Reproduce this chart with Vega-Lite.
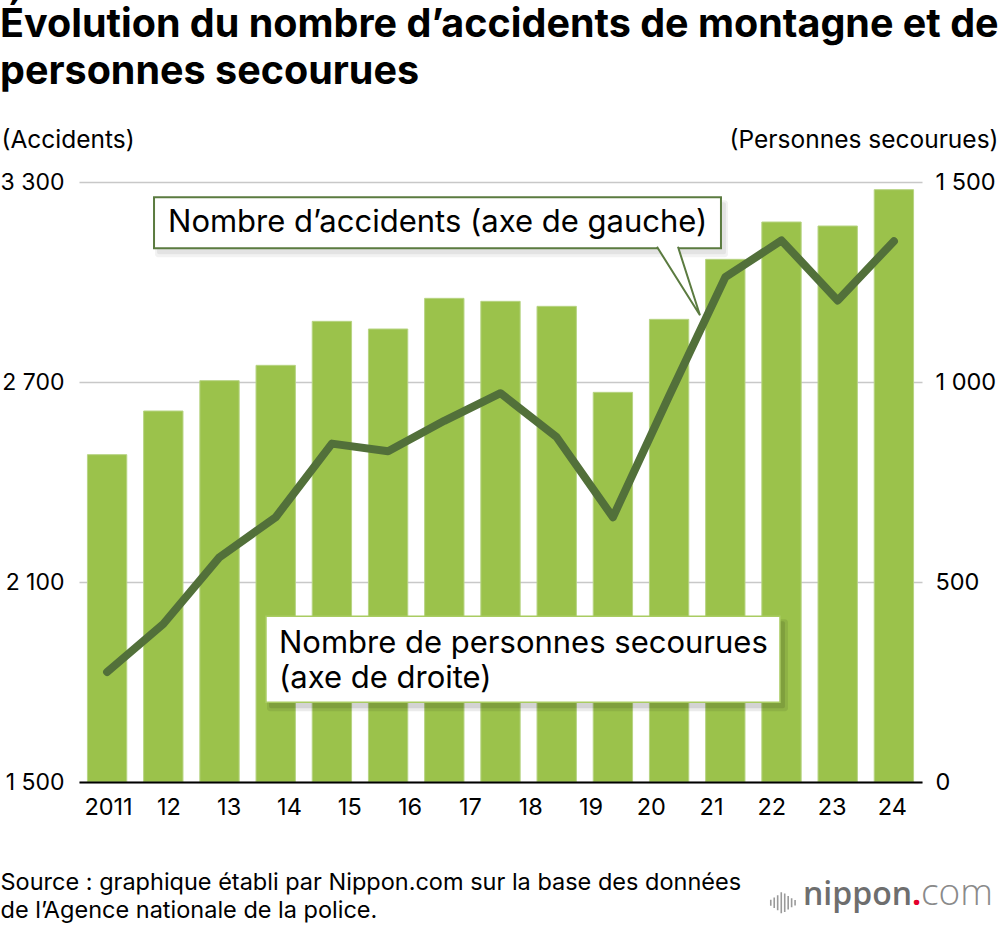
{
  "$schema": "https://vega.github.io/schema/vega-lite/v6.json",
  "width": 843,
  "height": 600,
  "autosize": "none",
  "padding": {"left": 79, "top": 182, "right": 78, "bottom": 144},
  "background": "white",
  "config": {"font": "Inter", "view": {"stroke": null}},
  "title": {
    "text": ["Évolution du nombre d’accidents de montagne et de", "personnes secourues"],
    "anchor": "start",
    "frame": "group",
    "dx": -79,
    "font": "Inter",
    "fontSize": 39.5,
    "fontWeight": "bold",
    "color": "#000000",
    "lineHeight": 47,
    "offset": 35
  },
  "datasets": {
    "serie": [
      {"rang": 1, "accidents": 2482, "secourues": 275},
      {"rang": 2, "accidents": 2613, "secourues": 395},
      {"rang": 3, "accidents": 2704, "secourues": 562},
      {"rang": 4, "accidents": 2750, "secourues": 662},
      {"rang": 5, "accidents": 2882, "secourues": 846},
      {"rang": 6, "accidents": 2859, "secourues": 827},
      {"rang": 7, "accidents": 2951, "secourues": 903},
      {"rang": 8, "accidents": 2942, "secourues": 972},
      {"rang": 9, "accidents": 2927, "secourues": 862},
      {"rang": 10, "accidents": 2669, "secourues": 662},
      {"rang": 11, "accidents": 2888, "secourues": 965},
      {"rang": 12, "accidents": 3068, "secourues": 1262},
      {"rang": 13, "accidents": 3180, "secourues": 1354},
      {"rang": 14, "accidents": 3168, "secourues": 1204},
      {"rang": 15, "accidents": 3277, "secourues": 1352}
    ],
    "annees": [
      {"annee": "2011"}, {"annee": "12"}, {"annee": "13"}, {"annee": "14"},
      {"annee": "15"}, {"annee": "16"}, {"annee": "17"}, {"annee": "18"},
      {"annee": "19"}, {"annee": "20"}, {"annee": "21"}, {"annee": "22"},
      {"annee": "23"}, {"annee": "24"}
    ]
  },
  "layer": [
    {
      "data": {"name": "serie"},
      "layer": [
        {
          "mark": {"type": "bar", "color": "#9bc24b", "stroke": "#b7d483", "strokeWidth": 1},
          "encoding": {
            "x": {
              "field": "rang",
              "type": "ordinal",
              "scale": {"type": "band", "paddingInner": 0.3, "paddingOuter": 0.15},
              "axis": {
                "orient": "bottom",
                "labels": false,
                "ticks": false,
                "grid": false,
                "domain": true,
                "domainColor": "#000000",
                "domainWidth": 2,
                "zindex": 1,
                "title": ["Source : graphique établi par Nippon.com sur la base des données", "de l’Agence nationale de la police."],
                "titleFont": "Inter",
                "titleFontSize": 23.5,
                "titleFontWeight": "normal",
                "titleColor": "#000000",
                "titleAlign": "left",
                "titleAnchor": "start",
                "titleBaseline": "alphabetic",
                "titleX": -79,
                "titleY": 107,
                "titleLineHeight": 28
              }
            },
            "y": {
              "field": "accidents",
              "type": "quantitative",
              "scale": {"domain": [1500, 3300], "zero": false, "nice": false},
              "axis": {
                "orient": "left",
                "values": [1500, 2100, 2700, 3300],
                "labelExpr": "replace(format(datum.value, ','), ',', ' ')",
                "domain": false,
                "ticks": false,
                "grid": true,
                "gridColor": "#c8c8c8",
                "gridWidth": 1.5,
                "labelFont": "Inter",
                "labelFontSize": 23,
                "labelColor": "#000000",
                "labelPadding": 15,
                "title": "(Accidents)",
                "titleAngle": 0,
                "titleAlign": "left",
                "titleBaseline": "middle",
                "titleX": -78,
                "titleY": -42,
                "titleFont": "Inter",
                "titleFontSize": 24.5,
                "titleFontWeight": "normal",
                "titleColor": "#000000"
              }
            },
            "y2": {"datum": 1500}
          }
        },
        {
          "mark": {"type": "line", "color": "#52703a", "strokeWidth": 8, "strokeCap": "round", "strokeJoin": "round"},
          "encoding": {
            "x": {"field": "rang", "type": "ordinal"},
            "y": {
              "field": "secourues",
              "type": "quantitative",
              "scale": {"domain": [0, 1500], "nice": false},
              "axis": {
                "orient": "right",
                "values": [0, 500, 1000, 1500],
                "labelExpr": "replace(format(datum.value, ','), ',', ' ')",
                "domain": false,
                "ticks": false,
                "grid": false,
                "labelFont": "Inter",
                "labelFontSize": 23.5,
                "labelColor": "#000000",
                "labelPadding": 13,
                "title": "(Personnes secourues)",
                "titleAngle": 0,
                "titleAlign": "right",
                "titleBaseline": "middle",
                "titleX": 76,
                "titleY": -42,
                "titleFont": "Inter",
                "titleFontSize": 24.5,
                "titleFontWeight": "normal",
                "titleColor": "#000000"
              }
            }
          }
        }
      ],
      "resolve": {"scale": {"y": "independent"}}
    },
    {
      "data": {"name": "annees"},
      "mark": {"type": "text", "font": "Inter", "fontSize": 23.5, "color": "#000000", "baseline": "alphabetic", "dy": 33},
      "encoding": {
        "x": {"field": "annee", "type": "nominal", "sort": null, "scale": {"type": "point", "padding": 0.49}, "axis": null},
        "y": {"datum": 1500, "type": "quantitative", "scale": {"domain": [1500, 3300], "zero": false, "nice": false}, "axis": null},
        "text": {"field": "annee"}
      }
    },
    {
      "data": {"values": [{}]},
      "layer": [
        {
          "mark": {"type": "rect", "fill": "#000000", "opacity": 0.05, "xOffset": 1, "x2Offset": 7, "yOffset": 3, "y2Offset": 9, "cornerRadius": 3},
          "encoding": {
            "x": {"datum": 1.335, "type": "quantitative", "scale": {"domain": [0, 15], "nice": false, "zero": false}, "axis": null},
            "x2": {"datum": 11.423},
            "y": {"datum": 3254, "type": "quantitative", "scale": {"domain": [1500, 3300], "nice": false, "zero": false}, "axis": null},
            "y2": {"datum": 3101}
          }
        },
        {
          "mark": {"type": "rect", "fill": "#000000", "opacity": 0.06, "xOffset": 3, "x2Offset": 5, "yOffset": 5, "y2Offset": 6, "cornerRadius": 2},
          "encoding": {
            "x": {"datum": 1.335, "type": "quantitative"},
            "x2": {"datum": 11.423},
            "y": {"datum": 3254, "type": "quantitative"},
            "y2": {"datum": 3101}
          }
        },
        {
          "mark": {"type": "rect", "fill": "#ffffff", "stroke": "#5b7b40", "strokeWidth": 2},
          "encoding": {
            "x": {"datum": 1.335, "type": "quantitative"},
            "x2": {"datum": 11.423},
            "y": {"datum": 3254, "type": "quantitative"},
            "y2": {"datum": 3101}
          }
        },
        {
          "mark": {"type": "point", "shape": "M-0.42,-0.7L0.44,0.67L0,-0.7", "size": 10000, "filled": true, "fill": "#ffffff", "fillOpacity": 1, "stroke": "#5b7b40", "strokeWidth": 2, "opacity": 1},
          "encoding": {
            "x": {"datum": 10.658, "type": "quantitative"},
            "y": {"datum": 3000.6, "type": "quantitative"}
          }
        },
        {
          "mark": {"type": "text", "text": "Nombre d’accidents (axe de gauche)", "font": "Inter", "fontSize": 31, "color": "#000000", "align": "left", "baseline": "alphabetic"},
          "encoding": {
            "x": {"datum": 1.584, "type": "quantitative"},
            "y": {"datum": 3149, "type": "quantitative"}
          }
        },
        {
          "mark": {"type": "rect", "fill": "#000000", "opacity": 0.08, "xOffset": 1, "x2Offset": 8, "yOffset": 3, "y2Offset": 9, "cornerRadius": 3},
          "encoding": {
            "x": {"datum": 3.327, "type": "quantitative"},
            "x2": {"datum": 12.473},
            "y": {"datum": 1997, "type": "quantitative"},
            "y2": {"datum": 1739}
          }
        },
        {
          "mark": {"type": "rect", "fill": "#000000", "opacity": 0.1, "xOffset": 3, "x2Offset": 5, "yOffset": 5, "y2Offset": 6, "cornerRadius": 2},
          "encoding": {
            "x": {"datum": 3.327, "type": "quantitative"},
            "x2": {"datum": 12.473},
            "y": {"datum": 1997, "type": "quantitative"},
            "y2": {"datum": 1739}
          }
        },
        {
          "mark": {"type": "rect", "fill": "#ffffff", "stroke": "#a9cc62", "strokeWidth": 1.5},
          "encoding": {
            "x": {"datum": 3.327, "type": "quantitative"},
            "x2": {"datum": 12.473},
            "y": {"datum": 1997, "type": "quantitative"},
            "y2": {"datum": 1739}
          }
        },
        {
          "mark": {"type": "text", "text": ["Nombre de personnes secourues", "(axe de droite)"], "font": "Inter", "fontSize": 31, "color": "#000000", "align": "left", "baseline": "alphabetic", "lineHeight": 35},
          "encoding": {
            "x": {"datum": 3.559, "type": "quantitative"},
            "y": {"datum": 1886, "type": "quantitative"}
          }
        },
        {
          "mark": {"type": "point", "shape": "M-0.85,-0.2L-0.85,0.2M-0.62,-0.35L-0.62,0.35M-0.39,-0.5L-0.39,0.5M-0.15,-0.7L-0.15,0.7M0.08,-0.62L0.08,0.62M0.31,-0.45L0.31,0.45M0.54,-0.3L0.54,0.3M0.77,-0.18L0.77,0.18", "size": 900, "filled": false, "stroke": "#9a9a9a", "strokeWidth": 1.6, "opacity": 1},
          "encoding": {
            "x": {"datum": 12.536, "type": "quantitative"},
            "y": {"datum": 1137.6, "type": "quantitative"}
          }
        },
        {
          "mark": {"type": "text", "text": "nippon", "font": "Open Sans", "fontSize": 32, "fontWeight": 600, "color": "#6e6e6e", "align": "right", "baseline": "alphabetic"},
          "encoding": {
            "x": {"datum": 14.822, "type": "quantitative"},
            "y": {"datum": 1130, "type": "quantitative"}
          }
        },
        {
          "mark": {"type": "text", "text": ".", "font": "Open Sans", "fontSize": 32, "fontWeight": 700, "color": "#e4002b", "align": "center", "baseline": "alphabetic"},
          "encoding": {
            "x": {"datum": 14.902, "type": "quantitative"},
            "y": {"datum": 1130, "type": "quantitative"}
          }
        },
        {
          "mark": {"type": "text", "text": "com", "font": "Open Sans", "fontSize": 37, "fontWeight": 300, "color": "#8a8a8a", "align": "left", "baseline": "alphabetic"},
          "encoding": {
            "x": {"datum": 14.982, "type": "quantitative"},
            "y": {"datum": 1130, "type": "quantitative"}
          }
        }
      ]
    }
  ],
  "resolve": {"scale": {"x": "independent", "y": "independent"}}
}
